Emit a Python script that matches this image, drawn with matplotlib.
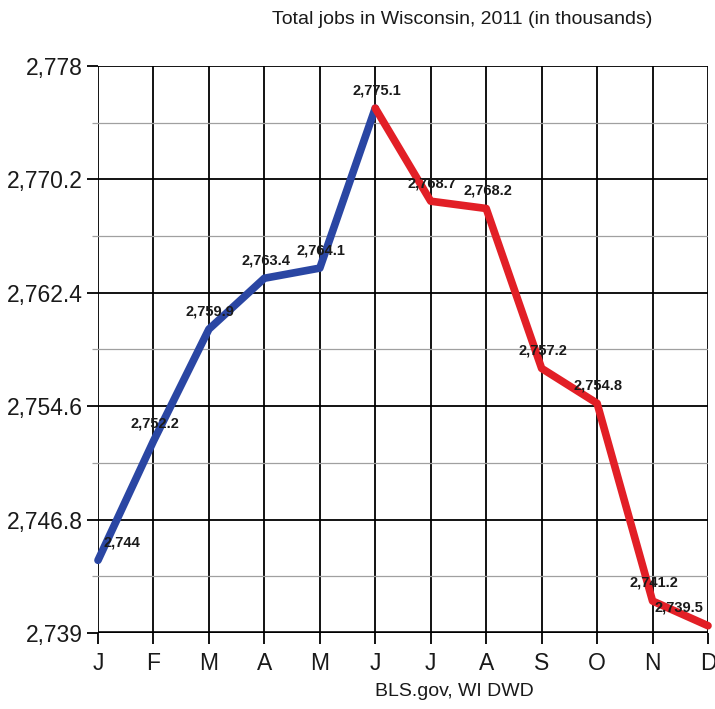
import matplotlib.pyplot as plt
from matplotlib.ticker import FixedLocator

months = ['J', 'F', 'M', 'A', 'M', 'J', 'J', 'A', 'S', 'O', 'N', 'D']
jobs = [2744.0, 2752.2, 2759.9, 2763.4, 2764.1, 2775.1,
        2768.7, 2768.2, 2757.2, 2754.8, 2741.2, 2739.5]
labels = ['2,744', '2,752.2', '2,759.9', '2,763.4', '2,764.1', '2,775.1',
          '2,768.7', '2,768.2', '2,757.2', '2,754.8', '2,741.2', '2,739.5']
y_major = [2739, 2746.8, 2754.6, 2762.4, 2770.2, 2778]
y_major_labels = ['2,739', '2,746.8', '2,754.6', '2,762.4', '2,770.2', '2,778']
y_minor = [2742.9, 2750.7, 2758.5, 2766.3, 2774.1]

plt.rcParams['font.family'] = ['Liberation Sans', 'DejaVu Sans']

fig = plt.figure(figsize=(7.15, 7.09), dpi=100)
ax = fig.add_axes([98 / 715, 1 - 633 / 709, 610 / 715, 567 / 709])

x = list(range(len(months)))
ax.set_xlim(0, 11)
ax.set_ylim(2739, 2778)

# grid
for xi in x:
    ax.axvline(xi, color='black', lw=1.3, zorder=1)
for yv in y_major:
    ax.axhline(yv, color='black', lw=1.3, zorder=1)
for yv in y_minor:
    ax.axhline(yv, color='#a0a0a0', lw=0.9, zorder=1)
ax.axhline(2739, color='black', lw=2.6, zorder=2)

ax.plot(x[:6], jobs[:6], color='#2a46a3', lw=5.5, solid_capstyle='round',
        solid_joinstyle='round', zorder=3, clip_on=False)
ax.plot(x[5:], jobs[5:], color='#e21f26', lw=5.5, solid_capstyle='round',
        solid_joinstyle='round', zorder=3, clip_on=False)

for i, (v, lab) in enumerate(zip(jobs, labels)):
    if i == 0:
        ha, dx = 'left', 4
    elif i == len(jobs) - 1:
        ha, dx = 'right', -3
    else:
        ha, dx = 'center', 1
    ax.annotate(lab, (i, v), xytext=(dx, 13), textcoords='offset points',
                ha=ha, va='center', fontsize=10.5, fontweight='bold',
                color='#1a1a1a', zorder=4)

for s in ax.spines.values():
    s.set_visible(False)

ax.set_xticks(x)
ax.set_xticklabels(months)
ax.yaxis.set_major_locator(FixedLocator(y_major))
ax.set_yticklabels(y_major_labels)
ax.yaxis.set_minor_locator(FixedLocator(y_minor))
ax.tick_params(axis='both', which='major', direction='out', length=8,
               width=1.3, color='black', labelsize=16.5, labelcolor='#1a1a1a')
ax.tick_params(axis='y', which='minor', direction='out', length=4,
               width=0.9, color='#a0a0a0')
ax.tick_params(axis='x', pad=6)
ax.tick_params(axis='y', pad=3)

fig.text(0.646, 0.972, 'Total jobs in Wisconsin, 2011 (in thousands)',
         ha='center', va='center', fontsize=14, color='#1a1a1a')
fig.text(0.636, 0.024, 'BLS.gov, WI DWD', ha='center', va='center',
         fontsize=14, color='#1a1a1a')

fig.savefig('out.png', dpi=100)
